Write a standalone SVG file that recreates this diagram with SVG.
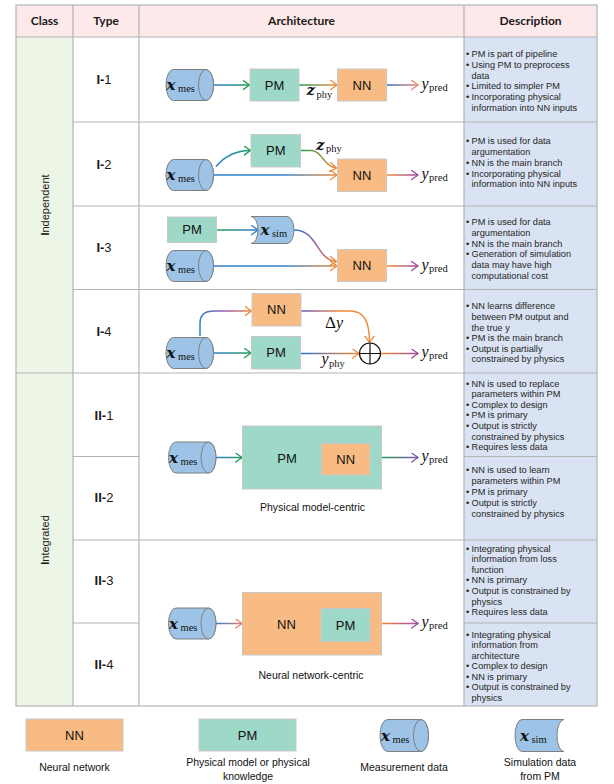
<svg xmlns="http://www.w3.org/2000/svg" width="614" height="784" viewBox="0 0 614 784">
<style>
.grid{stroke:#b4b4b4;stroke-width:1.2;fill:none}
.hdr{font-family:Lato,"Open Sans",sans-serif;font-weight:bold;font-size:12px;fill:#1a1a1a;text-anchor:middle}
.typ{font-family:"Liberation Sans",Arial,sans-serif;font-size:13px;fill:#1a1a1a;text-anchor:middle}
.cls{font-family:"Liberation Sans",Arial,sans-serif;font-size:11px;fill:#1a1a1a;text-anchor:middle}
.desc{font-family:"Liberation Sans",Arial,sans-serif;font-size:9.2px;fill:#262626}
.lbl{font-family:"Liberation Sans",Arial,sans-serif;font-size:13px;fill:#111;text-anchor:middle}
.cap{font-family:"Liberation Sans",Arial,sans-serif;font-size:10.5px;fill:#111;text-anchor:middle}
.nn{fill:#f9bb84;stroke:#c9c9c9;stroke-width:1}
.pm{fill:#9dd8c9;stroke:#c9c9c9;stroke-width:1}
.cyl{fill:#9dc3e6;stroke:#7f7f7f;stroke-width:1}
.mb{font-family:"DejaVu Serif",serif;font-weight:bold;font-style:italic;font-size:15px;fill:#111}
.mi{font-family:"Liberation Serif",serif;font-style:italic;font-size:16px;fill:#111}
.mr{font-family:"Liberation Serif",serif;font-size:17px;fill:#111}
.sub{font-family:"Liberation Serif",serif;font-size:10.5px;fill:#111}
.ar{fill:none;stroke-width:1.5}
</style>
<defs>
<marker id="hG" markerUnits="userSpaceOnUse" markerWidth="10" markerHeight="12" refX="7" refY="5" orient="auto"><path d="M0,0 L7,5 L0,10" fill="none" stroke="#1f9d57" stroke-width="1.3"/></marker>
<marker id="hO" markerUnits="userSpaceOnUse" markerWidth="10" markerHeight="12" refX="7" refY="5" orient="auto"><path d="M0,0 L7,5 L0,10" fill="none" stroke="#f08a38" stroke-width="1.3"/></marker>
<marker id="hP" markerUnits="userSpaceOnUse" markerWidth="10" markerHeight="12" refX="7" refY="5" orient="auto"><path d="M0,0 L7,5 L0,10" fill="none" stroke="#9b4c9f" stroke-width="1.3"/></marker>
<marker id="hB" markerUnits="userSpaceOnUse" markerWidth="10" markerHeight="12" refX="7" refY="5" orient="auto"><path d="M0,0 L7,5 L0,10" fill="none" stroke="#2f7fcc" stroke-width="1.3"/></marker>
<marker id="hS" markerUnits="userSpaceOnUse" markerWidth="10" markerHeight="12" refX="7" refY="5" orient="auto"><path d="M0,0 L7,5 L0,10" fill="none" stroke="#e9846e" stroke-width="1.3"/></marker>
<marker id="hV" markerUnits="userSpaceOnUse" markerWidth="10" markerHeight="12" refX="7" refY="5" orient="auto"><path d="M0,0 L7,5 L0,10" fill="none" stroke="#7d5aa8" stroke-width="1.3"/></marker>
<linearGradient id="g1" gradientUnits="userSpaceOnUse" x1="213" y1="0" x2="250" y2="0"><stop offset="0" stop-color="#2f7fcc"/><stop offset="1" stop-color="#1f9d57"/></linearGradient>
<linearGradient id="g2" gradientUnits="userSpaceOnUse" x1="299" y1="0" x2="337" y2="0"><stop offset="0" stop-color="#1f9d57"/><stop offset="1" stop-color="#f08a38"/></linearGradient>
<linearGradient id="g3" gradientUnits="userSpaceOnUse" x1="387" y1="0" x2="418" y2="0"><stop offset="0" stop-color="#2f6fc0"/><stop offset="1" stop-color="#e9846e"/></linearGradient>
<linearGradient id="g4" gradientUnits="userSpaceOnUse" x1="216" y1="0" x2="250" y2="0"><stop offset="0" stop-color="#2f7fcc"/><stop offset="1" stop-color="#1a9a78"/></linearGradient>
<linearGradient id="g5" gradientUnits="userSpaceOnUse" x1="213" y1="0" x2="337" y2="0"><stop offset="0" stop-color="#2f7fcc"/><stop offset="0.55" stop-color="#2f7fcc"/><stop offset="1" stop-color="#e88a3a"/></linearGradient>
<linearGradient id="g6" gradientUnits="userSpaceOnUse" x1="301" y1="0" x2="337" y2="0"><stop offset="0" stop-color="#1f9d57"/><stop offset="1" stop-color="#f08a38"/></linearGradient>
<linearGradient id="g7" gradientUnits="userSpaceOnUse" x1="387" y1="0" x2="418" y2="0"><stop offset="0" stop-color="#f08a38"/><stop offset="1" stop-color="#9b4c9f"/></linearGradient>
<linearGradient id="g8" gradientUnits="userSpaceOnUse" x1="217" y1="0" x2="258" y2="0"><stop offset="0" stop-color="#1f9d57"/><stop offset="1" stop-color="#2f7fcc"/></linearGradient>
<linearGradient id="g9" gradientUnits="userSpaceOnUse" x1="294" y1="0" x2="337" y2="0"><stop offset="0" stop-color="#2f7fcc"/><stop offset="0.5" stop-color="#9b5aa8"/><stop offset="1" stop-color="#f08a38"/></linearGradient>
<linearGradient id="g12" gradientUnits="userSpaceOnUse" x1="200" y1="0" x2="252" y2="0"><stop offset="0" stop-color="#2f7fcc"/><stop offset="0.5" stop-color="#9b5aa8"/><stop offset="1" stop-color="#f08a38"/></linearGradient>
<linearGradient id="g14" gradientUnits="userSpaceOnUse" x1="301" y1="0" x2="369" y2="0"><stop offset="0" stop-color="#6a5ab8"/><stop offset="0.6" stop-color="#f08a38"/><stop offset="1" stop-color="#f08a38"/></linearGradient>
<linearGradient id="g15" gradientUnits="userSpaceOnUse" x1="301" y1="0" x2="359" y2="0"><stop offset="0" stop-color="#2f6fc0"/><stop offset="1" stop-color="#f08a38"/></linearGradient>
<linearGradient id="g16" gradientUnits="userSpaceOnUse" x1="381" y1="0" x2="418" y2="0"><stop offset="0" stop-color="#f08a38"/><stop offset="1" stop-color="#9b4c9f"/></linearGradient>
<linearGradient id="g17" gradientUnits="userSpaceOnUse" x1="216" y1="0" x2="242" y2="0"><stop offset="0" stop-color="#2f7fcc"/><stop offset="1" stop-color="#1f9d57"/></linearGradient>
<linearGradient id="g18" gradientUnits="userSpaceOnUse" x1="382" y1="0" x2="418" y2="0"><stop offset="0" stop-color="#1f9d57"/><stop offset="1" stop-color="#7d5aa8"/></linearGradient>
<linearGradient id="g19" gradientUnits="userSpaceOnUse" x1="216" y1="0" x2="242" y2="0"><stop offset="0" stop-color="#2f7fcc"/><stop offset="1" stop-color="#e9846e"/></linearGradient>
<linearGradient id="g20" gradientUnits="userSpaceOnUse" x1="382" y1="0" x2="418" y2="0"><stop offset="0" stop-color="#f08a38"/><stop offset="1" stop-color="#9b4c9f"/></linearGradient>
</defs>
<rect x="0" y="0" width="614" height="784" fill="#ffffff"/>
<g id="table">
<rect x="16" y="5" width="581" height="32" fill="#fde9e9"/>
<rect x="16" y="37" width="57" height="669" fill="#edf5e6"/>
<rect x="464" y="37" width="133" height="669" fill="#dae3f3"/>
<rect class="grid" x="16" y="5" width="581" height="701"/>
<path class="grid" d="M73,5 V706 M139,5 V706 M464,5 V706 M16,37 H597 M73,122 H597 M73,206 H597 M73,289.5 H597 M16,373 H597 M73,456.5 H139 M464,456.5 H597 M73,540 H597 M73,623 H139 M464,623 H597"/>
<text class="hdr" x="44.5" y="25">Class</text>
<text class="hdr" x="106" y="25">Type</text>
<text class="hdr" x="301.5" y="25">Architecture</text>
<text class="hdr" x="530.5" y="25">Description</text>
<text class="cls" transform="translate(49,205) rotate(-90)"><tspan font-weight="bold">I</tspan>ndependent</text>
<text class="cls" transform="translate(49,540) rotate(-90)"><tspan font-weight="bold">I</tspan>ntegrated</text>
<text class="typ" x="104" y="84"><tspan font-weight="bold">I-</tspan>1</text>
<text class="typ" x="104" y="168.5"><tspan font-weight="bold">I-</tspan>2</text>
<text class="typ" x="104" y="252"><tspan font-weight="bold">I-</tspan>3</text>
<text class="typ" x="104" y="336"><tspan font-weight="bold">I-</tspan>4</text>
<text class="typ" x="104" y="419.5"><tspan font-weight="bold">II-</tspan>1</text>
<text class="typ" x="104" y="502"><tspan font-weight="bold">II-</tspan>2</text>
<text class="typ" x="104" y="585"><tspan font-weight="bold">II-</tspan>3</text>
<text class="typ" x="104" y="668.5"><tspan font-weight="bold">II-</tspan>4</text>
</g>
<g id="descriptions" class="desc">
<text y="56.6"><tspan x="466">•</tspan><tspan x="471.5">PM is part of pipeline</tspan><tspan x="466" dy="11">•</tspan><tspan x="471.5">Using PM to preprocess</tspan><tspan x="471.5" dy="11">data</tspan><tspan x="466" dy="10.7">•</tspan><tspan x="471.5">Limited to simpler PM</tspan><tspan x="466" dy="10.7">•</tspan><tspan x="471.5">Incorporating physical</tspan><tspan x="471.5" dy="10.7">information into NN inputs</tspan></text>
<text y="144.3"><tspan x="466">•</tspan><tspan x="471.5">PM is used for data</tspan><tspan x="471.5" dy="10.7">argumentation</tspan><tspan x="466" dy="10.9">•</tspan><tspan x="471.5">NN is the main branch</tspan><tspan x="466" dy="10.7">•</tspan><tspan x="471.5">Incorporating physical</tspan><tspan x="471.5" dy="10.7">information into NN inputs</tspan></text>
<text y="225"><tspan x="466">•</tspan><tspan x="471.5">PM is used for data</tspan><tspan x="471.5" dy="10.8">argumentation</tspan><tspan x="466" dy="10.8">•</tspan><tspan x="471.5">NN is the main branch</tspan><tspan x="466" dy="10.8">•</tspan><tspan x="471.5">Generation of simulation</tspan><tspan x="471.5" dy="10.8">data may have high</tspan><tspan x="471.5" dy="10.8">computational cost</tspan></text>
<text y="309.3"><tspan x="466">•</tspan><tspan x="471.5">NN learns difference</tspan><tspan x="471.5" dy="10.6">between PM output and</tspan><tspan x="471.5" dy="10.6">the true y</tspan><tspan x="466" dy="10.6">•</tspan><tspan x="471.5">PM is the main branch</tspan><tspan x="466" dy="10.6">•</tspan><tspan x="471.5">Output is partially</tspan><tspan x="471.5" dy="10.6">constrained by physics</tspan></text>
<text y="386.6"><tspan x="466">•</tspan><tspan x="471.5">NN is used to replace</tspan><tspan x="471.5" dy="10.6">parameters within PM</tspan><tspan x="466" dy="10.6">•</tspan><tspan x="471.5">Complex to design</tspan><tspan x="466" dy="10.6">•</tspan><tspan x="471.5">PM is primary</tspan><tspan x="466" dy="10.6">•</tspan><tspan x="471.5">Output is strictly</tspan><tspan x="471.5" dy="10.6">constrained by physics</tspan><tspan x="466" dy="10.8">•</tspan><tspan x="471.5">Requires less data</tspan></text>
<text y="473.3"><tspan x="466">•</tspan><tspan x="471.5">NN is used to learn</tspan><tspan x="471.5" dy="10.8">parameters within PM</tspan><tspan x="466" dy="10.8">•</tspan><tspan x="471.5">PM is primary</tspan><tspan x="466" dy="10.8">•</tspan><tspan x="471.5">Output is strictly</tspan><tspan x="471.5" dy="10.8">constrained by physics</tspan></text>
<text y="551.6"><tspan x="466">•</tspan><tspan x="471.5">Integrating physical</tspan><tspan x="471.5" dy="10.6">information from loss</tspan><tspan x="471.5" dy="10.6">function</tspan><tspan x="466" dy="10.6">•</tspan><tspan x="471.5">NN is primary</tspan><tspan x="466" dy="10.6">•</tspan><tspan x="471.5">Output is constrained by</tspan><tspan x="471.5" dy="10.6">physics</tspan><tspan x="466" dy="10.8">•</tspan><tspan x="471.5">Requires less data</tspan></text>
<text y="637.6"><tspan x="466">•</tspan><tspan x="471.5">Integrating physical</tspan><tspan x="471.5" dy="10.5">information from</tspan><tspan x="471.5" dy="10.5">architecture</tspan><tspan x="466" dy="10.5">•</tspan><tspan x="471.5">Complex to design</tspan><tspan x="466" dy="10.5">•</tspan><tspan x="471.5">NN is primary</tspan><tspan x="466" dy="10.5">•</tspan><tspan x="471.5">Output is constrained by</tspan><tspan x="471.5" dy="10.5">physics</tspan></text>
</g>
<g id="connectors">
<path class="ar" stroke="url(#g1)" marker-end="url(#hG)" d="M213.5,85 H249.5"/>
<path class="ar" stroke="url(#g2)" marker-end="url(#hO)" d="M299,85 H337"/>
<path class="ar" stroke="url(#g3)" marker-end="url(#hS)" d="M387,85 H418"/>
<path class="ar" stroke="url(#g4)" marker-end="url(#hG)" d="M216,166.5 C224,157 234,150.5 250.5,150.5"/>
<path class="ar" stroke="url(#g5)" marker-end="url(#hO)" d="M213.5,175 H337"/>
<path class="ar" stroke="url(#g6)" marker-end="url(#hO)" d="M301,150.5 H311 C322,150.5 323,166 336.5,168"/>
<path class="ar" stroke="url(#g7)" marker-end="url(#hP)" d="M387,175 H418"/>
<path class="ar" stroke="url(#g8)" marker-end="url(#hB)" d="M217,230 H258"/>
<path class="ar" stroke="url(#g9)" marker-end="url(#hO)" d="M294,230 C318,230 316,260 336.5,261.5"/>
<path class="ar" stroke="url(#g5)" marker-end="url(#hO)" d="M213.5,266 H337"/>
<path class="ar" stroke="url(#g7)" marker-end="url(#hP)" d="M387,266 H418"/>
<path class="ar" stroke="url(#g12)" marker-end="url(#hO)" d="M200,336 V323 C200,315 205,311 214,311 H251.5"/>
<path class="ar" stroke="url(#g1)" marker-end="url(#hG)" d="M213.5,353 H251"/>
<path class="ar" stroke="url(#g14)" marker-end="url(#hO)" d="M301,311 H350 C362,311 369.5,318 369.5,342.5"/>
<path class="ar" stroke="url(#g15)" marker-end="url(#hO)" d="M301,353.5 H359"/>
<path class="ar" stroke="url(#g16)" marker-end="url(#hP)" d="M381,353.5 H418"/>
<path class="ar" stroke="url(#g17)" marker-end="url(#hG)" d="M216,457.5 H242"/>
<path class="ar" stroke="url(#g18)" marker-end="url(#hV)" d="M382,457.5 H418"/>
<path class="ar" stroke="url(#g19)" marker-end="url(#hS)" d="M216,623.5 H242"/>
<path class="ar" stroke="url(#g20)" marker-end="url(#hP)" d="M382,623.5 H418"/>
</g>
<g id="I1-xmes"><path class="cyl" d="M173.5,69.5 H206 A7.5,15.5 0 0 1 206,100.5 H173.5 A7.5,15.5 0 0 1 173.5,69.5 Z"/><ellipse class="cyl" cx="206" cy="85" rx="7.5" ry="15.5"/><text class="mb" x="166.5" y="90">x</text><text class="sub" x="178" y="92">mes</text></g>
<g id="I1-PM"><rect class="pm" x="250" y="69" width="49" height="32"/><text class="lbl" x="274.5" y="89.7">PM</text></g>
<g id="I1-NN"><rect class="nn" x="337.5" y="69" width="49" height="32"/><text class="lbl" x="362" y="89.7">NN</text></g>
<g id="I1-labels"><text class="mb" x="306.5" y="95">z</text><text class="sub" x="316.5" y="97.5">phy</text><text class="mi" x="421.5" y="89">y</text><text class="sub" x="429" y="91">pred</text></g>
<g id="I2-xmes"><path class="cyl" d="M173.5,159.5 H206 A7.5,15.5 0 0 1 206,190.5 H173.5 A7.5,15.5 0 0 1 173.5,159.5 Z"/><ellipse class="cyl" cx="206" cy="175" rx="7.5" ry="15.5"/><text class="mb" x="166.5" y="180">x</text><text class="sub" x="178" y="182">mes</text></g>
<g id="I2-PM"><rect class="pm" x="251" y="134.5" width="49.5" height="32.5"/><text class="lbl" x="275.75" y="155.4">PM</text></g>
<g id="I2-NN"><rect class="nn" x="337.5" y="159" width="49" height="32.5"/><text class="lbl" x="362" y="180">NN</text></g>
<g id="I2-labels"><text class="mb" x="316" y="149.5">z</text><text class="sub" x="326" y="152">phy</text><text class="mi" x="421.5" y="179">y</text><text class="sub" x="429" y="181">pred</text></g>
<g id="I3-PM"><rect class="pm" x="167.5" y="217" width="49" height="25.5"/><text class="lbl" x="192" y="234.4">PM</text></g>
<g id="I3-xsim"><path class="cyl" d="M251,216.5 H287 A7,13.5 0 0 1 287,243.5 H251 A7,13.5 0 0 0 251,216.5 Z"/><text class="mb" x="260.5" y="235">x</text><text class="sub" x="272" y="237">sim</text></g>
<g id="I3-xmes"><path class="cyl" d="M173.5,250.5 H206 A7.5,15.5 0 0 1 206,281.5 H173.5 A7.5,15.5 0 0 1 173.5,250.5 Z"/><ellipse class="cyl" cx="206" cy="266" rx="7.5" ry="15.5"/><text class="mb" x="166.5" y="271">x</text><text class="sub" x="178" y="273">mes</text></g>
<g id="I3-NN"><rect class="nn" x="337.5" y="249.5" width="49" height="32"/><text class="lbl" x="362" y="270.2">NN</text></g>
<g id="I3-labels"><text class="mi" x="421.5" y="270">y</text><text class="sub" x="429" y="272">pred</text></g>
<g id="I4-NN"><rect class="nn" x="252" y="293.5" width="49" height="32.5"/><text class="lbl" x="276.5" y="314.4">NN</text></g>
<g id="I4-xmes"><path class="cyl" d="M173.5,337.5 H206 A7.5,15.5 0 0 1 206,368.5 H173.5 A7.5,15.5 0 0 1 173.5,337.5 Z"/><ellipse class="cyl" cx="206" cy="353" rx="7.5" ry="15.5"/><text class="mb" x="166.5" y="358">x</text><text class="sub" x="178" y="360">mes</text></g>
<g id="I4-PM"><rect class="pm" x="251.5" y="336.5" width="49" height="32.5"/><text class="lbl" x="276" y="357.4">PM</text></g>
<g id="I4-sum"><circle cx="370" cy="353.5" r="10.5" fill="#fff" stroke="#111" stroke-width="1.2"/><path d="M359.5,353.5 H380.5 M370,343 V364" stroke="#111" stroke-width="1.2"/></g>
<g id="I4-labels"><text class="mr" x="325" y="328">Δ<tspan class="mi" font-size="17">y</tspan></text><text class="mi" x="321.5" y="364">y</text><text class="sub" x="329" y="366.5">phy</text><text class="mi" x="421.5" y="357">y</text><text class="sub" x="429" y="359">pred</text></g>
<g id="II1-xmes"><path class="cyl" d="M176,442 H208.5 A7.5,15.5 0 0 1 208.5,473 H176 A7.5,15.5 0 0 1 176,442 Z"/><ellipse class="cyl" cx="208.5" cy="457.5" rx="7.5" ry="15.5"/><text class="mb" x="169" y="462.5">x</text><text class="sub" x="180.5" y="464.5">mes</text></g>
<g id="II1-PM"><rect class="pm" x="242.5" y="426" width="139" height="63"/><text class="lbl" x="287" y="462.6">PM</text></g>
<g id="II1-NN"><rect class="nn" x="321.5" y="443.5" width="48.5" height="31.5"/><text class="lbl" x="345.75" y="464">NN</text></g>
<g id="II1-labels"><text class="mi" x="421.5" y="461">y</text><text class="sub" x="429" y="463">pred</text><text class="cap" x="312.5" y="511">Physical model-centric</text></g>
<g id="II3-xmes"><path class="cyl" d="M176,608 H208.5 A7.5,15.5 0 0 1 208.5,639 H176 A7.5,15.5 0 0 1 176,608 Z"/><ellipse class="cyl" cx="208.5" cy="623.5" rx="7.5" ry="15.5"/><text class="mb" x="169" y="628.5">x</text><text class="sub" x="180.5" y="630.5">mes</text></g>
<g id="II3-NN"><rect class="nn" x="242.5" y="592.5" width="139" height="62.5"/><text class="lbl" x="286.5" y="628.6">NN</text></g>
<g id="II3-PM"><rect class="pm" x="321" y="608.5" width="49" height="33"/><text class="lbl" x="345.5" y="629.7">PM</text></g>
<g id="II3-labels"><text class="mi" x="421.5" y="627">y</text><text class="sub" x="429" y="629">pred</text><text class="cap" x="311" y="679">Neural network-centric</text></g>
<g id="legend-NN"><rect class="nn" x="26" y="719" width="97" height="32"/><text class="lbl" x="74.5" y="739.5" font-size="12">NN</text><text class="cap" x="74.5" y="771">Neural network</text></g>
<g id="legend-PM"><rect class="pm" x="199" y="719" width="97" height="32"/><text class="lbl" x="247.5" y="739.5" font-size="12">PM</text><text class="cap" x="248" y="765.5">Physical model or physical</text><text class="cap" x="248" y="779.5">knowledge</text></g>
<g id="legend-xmes"><path class="cyl" d="M387.5,719.5 H421 A7.5,16 0 0 1 421,751.5 H387.5 A7.5,16 0 0 1 387.5,719.5 Z"/><ellipse class="cyl" cx="421" cy="735.5" rx="7.5" ry="16"/><text class="mb" x="381" y="740.5">x</text><text class="sub" x="392.5" y="742.5">mes</text><text class="cap" x="404" y="771">Measurement data</text></g>
<g id="legend-xsim"><path class="cyl" d="M522,719.5 H564 A7,16 0 0 0 564,751.5 H522 A7,16 0 0 1 522,719.5 Z"/><text class="mb" x="520" y="740.5">x</text><text class="sub" x="531.5" y="742.5">sim</text><text class="cap" x="540" y="765.5">Simulation data</text><text class="cap" x="540" y="779.5">from PM</text></g>
</svg>
